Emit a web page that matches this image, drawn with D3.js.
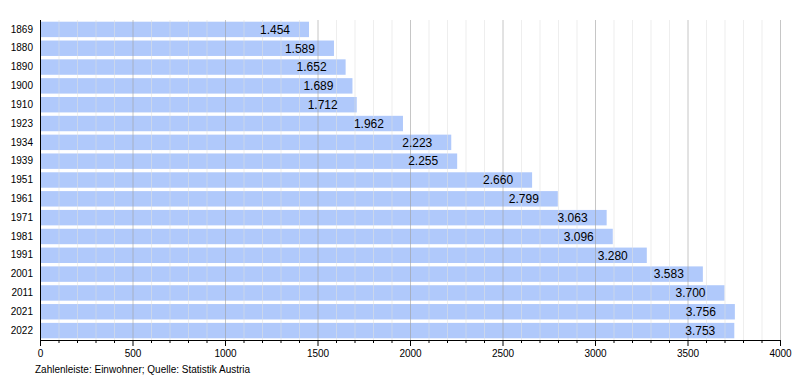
<!DOCTYPE html>
<html><head><meta charset="utf-8">
<script src="https://cdn.jsdelivr.net/npm/d3@7"></script>
<style>body{margin:0;background:#fff}svg{display:block;font-family:"Liberation Sans",Arial,sans-serif}</style>
</head><body><svg id="c" width="800" height="380"></svg>
<script>
const years = ["1869","1880","1890","1900","1910","1923","1934","1939","1951","1961","1971","1981","1991","2001","2011","2021","2022"];
const population = [1454,1589,1652,1689,1712,1962,2223,2255,2660,2799,3063,3096,3280,3583,3700,3756,3753];
const xMax = 4000;
const footer = "Zahlenleiste: Einwohner; Quelle: Statistik Austria";

const svg = d3.select("#c");
const m = {l:40, r:20, t:20, b:40};
const W = 800, H = 380;
const x = d3.scaleLinear().domain([0, xMax]).range([m.l, W - m.r]);
const y = d3.scaleBand().domain(years).range([m.t, H - m.b]).paddingInner(0.18).paddingOuter(0.09);

const minor = d3.range(0, xMax + 1, 100).filter(v => v % 500 !== 0);
const major = d3.range(500, xMax + 1, 500);

// bars
svg.append("g").selectAll("rect").data(years).join("rect")
  .attr("x", x(0)).attr("y", d => y(d))
  .attr("width", (d,i) => x(population[i]) - x(0))
  .attr("height", y.bandwidth())
  .attr("fill", "#b0c9fb");

// grid
const g = svg.append("g");
g.selectAll("line.mi").data(minor).join("line").attr("class","mi")
  .attr("x1", d => x(d)+0.5).attr("x2", d => x(d)+0.5).attr("y1", m.t).attr("y2", H - m.b)
  .attr("stroke", "#e0e0e0").attr("stroke-opacity", 0.55);
g.selectAll("line.ma").data(major).join("line").attr("class","ma")
  .attr("x1", d => x(d)+0.5).attr("x2", d => x(d)+0.5).attr("y1", m.t).attr("y2", H - m.b)
  .attr("stroke", "#a0a0a0").attr("stroke-opacity", 0.6);

// value labels
svg.append("g").selectAll("text").data(years).join("text")
  .attr("x", (d,i) => x(population[i]) - 19)
  .attr("y", d => y(d) + y.bandwidth()/2)
  .attr("dy", "0.36em")
  .attr("text-anchor", "end")
  .attr("font-size", 12).attr("fill", "#000")
  .text((d,i) => d3.format(",")(population[i]).replace(/,/g, "."));

// x axis
const xa = svg.append("g").attr("transform", `translate(0,${H - m.b})`);
xa.call(d3.axisBottom(x).tickValues(minor).tickSize(3).tickFormat(""))
  .call(s => s.select(".domain").remove());
const xa2 = svg.append("g").attr("transform", `translate(0,${H - m.b})`)
  .call(d3.axisBottom(x).tickValues(d3.range(0, xMax + 1, 500)).tickSize(6).tickPadding(4).tickFormat(d3.format("d")));
xa2.select(".domain").attr("d", `M${x(0)},0.5H${x(xMax)}`);
xa2.selectAll("text").attr("font-size", 10).attr("font-family", "Liberation Sans, Arial, sans-serif");

// y axis
const ya = svg.append("g").attr("transform", `translate(${m.l},0)`)
  .call(d3.axisLeft(y).tickSize(0).tickPadding(7));
ya.select(".domain").attr("d", `M0.5,${m.t}V${H - m.b}`);
ya.selectAll("text").attr("font-size", 10).attr("font-family", "Liberation Sans, Arial, sans-serif");

svg.append("text").attr("x", 35).attr("y", 373).attr("font-size", 10).text(footer);
</script></body></html>
